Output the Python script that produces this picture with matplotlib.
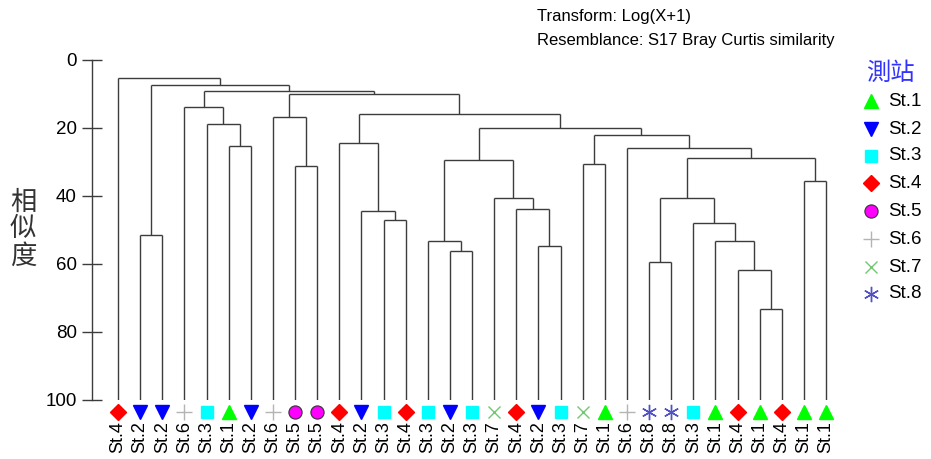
import numpy as np
import matplotlib.pyplot as plt

plt.rcParams['font.family'] = ['Liberation Sans', 'DejaVu Sans']

# leaf order as drawn (left to right)
leaf_labels = ['St.4', 'St.2', 'St.2', 'St.6', 'St.3', 'St.1', 'St.2', 'St.6', 'St.5',
               'St.5', 'St.4', 'St.2', 'St.3', 'St.4', 'St.3', 'St.2', 'St.3', 'St.7',
               'St.4', 'St.2', 'St.3', 'St.7', 'St.1', 'St.6', 'St.8', 'St.8', 'St.3',
               'St.1', 'St.4', 'St.1', 'St.4', 'St.1', 'St.1']

# merges: node 33+k joins merge_left[k] and merge_right[k] at merge_sim[k]
merge_left = [29, 28, 24, 15, 19, 27, 14, 1, 26, 12, 18, 11, 17, 35, 31, 8,
              21, 39, 46, 23, 5, 10, 49, 50, 4, 7, 54, 3, 58, 60, 40, 0]
merge_right = [30, 33, 25, 16, 20, 34, 36, 2, 38, 13, 37, 42, 43, 41, 32, 9,
               22, 45, 47, 51, 6, 44, 52, 55, 53, 48, 56, 57, 59, 61, 62, 63]
merge_sim = [73.2, 61.8, 59.5, 56.2, 54.6, 53.3, 53.1, 51.4, 48.0, 47.2, 43.7, 44.4,
             40.5, 40.5, 35.7, 31.3, 30.7, 29.4, 28.9, 25.9, 25.2, 24.5, 22.0, 19.9,
             18.8, 16.7, 15.9, 13.9, 10.1, 9.0, 7.3, 5.4]

stations = ['St.1', 'St.2', 'St.3', 'St.4', 'St.5', 'St.6', 'St.7', 'St.8']

styles = {
    'St.1': dict(marker='^', color='#00ff00', mec='#00ff00', ms=10),
    'St.2': dict(marker='v', color='#0000ff', mec='#0000ff', ms=10),
    'St.3': dict(marker='s', color='#00ffff', mec='#00ffff', ms=8.5),
    'St.4': dict(marker='D', color='#ff0000', mec='#ff0000', ms=8),
    'St.5': dict(marker='o', color='#ff00ff', mec='#333333', ms=9.5, mew=0.8),
    'St.6': dict(marker='+', color='#b4b4b4', mec='#b4b4b4', ms=11, mew=1),
    'St.7': dict(marker='x', color='#70c870', mec='#70c870', ms=9, mew=1),
    'St.8': dict(marker=(6, 2, 0), color='#5050c8', mec='#5050c8', ms=11, mew=1),
}

n = len(leaf_labels)
fig = plt.figure(figsize=(9.31, 4.59), dpi=100)
ax = fig.add_axes([92 / 931, 59 / 459, 758 / 931, 340 / 459])

xpos = list(range(n))
ypos = [100.0] * n
line_kw = dict(color='#3c3c3c', lw=1.0, solid_capstyle='butt')
for l, r, s in zip(merge_left, merge_right, merge_sim):
    xl, xr = xpos[l], xpos[r]
    ax.plot([xl, xl], [ypos[l], s], **line_kw)
    ax.plot([xr, xr], [ypos[r], s], **line_kw)
    ax.plot([xl, xr], [s, s], **line_kw)
    xpos.append((xl + xr) / 2)
    ypos.append(s)

for i, lab in enumerate(leaf_labels):
    ax.plot(i, 103.5, linestyle='none', clip_on=False, **styles[lab])
    ax.text(i, 106.2, lab, rotation=90, ha='center', va='top', fontsize=13,
            clip_on=False)

px = 708 / 32
ax.set_xlim(-26 / px, 32 + 24 / px)
ax.set_ylim(100, 0)
ax.set_yticks([0, 20, 40, 60, 80, 100])
ax.tick_params(axis='y', direction='inout', length=14, width=1, color='#3c3c3c',
               labelsize=13.5, pad=4)
ax.set_xticks([])
for side in ['top', 'right', 'bottom']:
    ax.spines[side].set_visible(False)
ax.spines['left'].set_color('#3c3c3c')
ax.spines['left'].set_linewidth(1)

fig.text(23 / 931, 1 - 229 / 459, '相\n似\n度', ha='center', va='center', fontsize=19,
         linespacing=1.0, color='#333333', fontweight='light',
         family=['Noto Sans CJK SC', 'DejaVu Sans'])

fig.text(537 / 931, 1 - 17 / 459, 'Transform: Log(X+1)', ha='left', va='center',
         fontsize=12)
fig.text(537 / 931, 1 - 40 / 459, 'Resemblance: S17 Bray Curtis similarity',
         ha='left', va='center', fontsize=12)

# legend
fig.text(890 / 931, 1 - 73 / 459, '測站', ha='center', va='center', fontsize=17.5,
         color='#3333ff', fontweight='light',
         family=['Noto Sans CJK TC', 'DejaVu Sans'])
leg_y = [101, 129, 156, 183, 211, 239, 267, 294]
for st, y in zip(stations, leg_y):
    st_kw = dict(styles[st])
    fig.add_artist(plt.Line2D([871 / 931], [1 - y / 459], linestyle='none', **st_kw))
    fig.text(888 / 931, 1 - y / 459, st, ha='left', va='center', fontsize=13.5)

fig.savefig('out.png', dpi=100)
